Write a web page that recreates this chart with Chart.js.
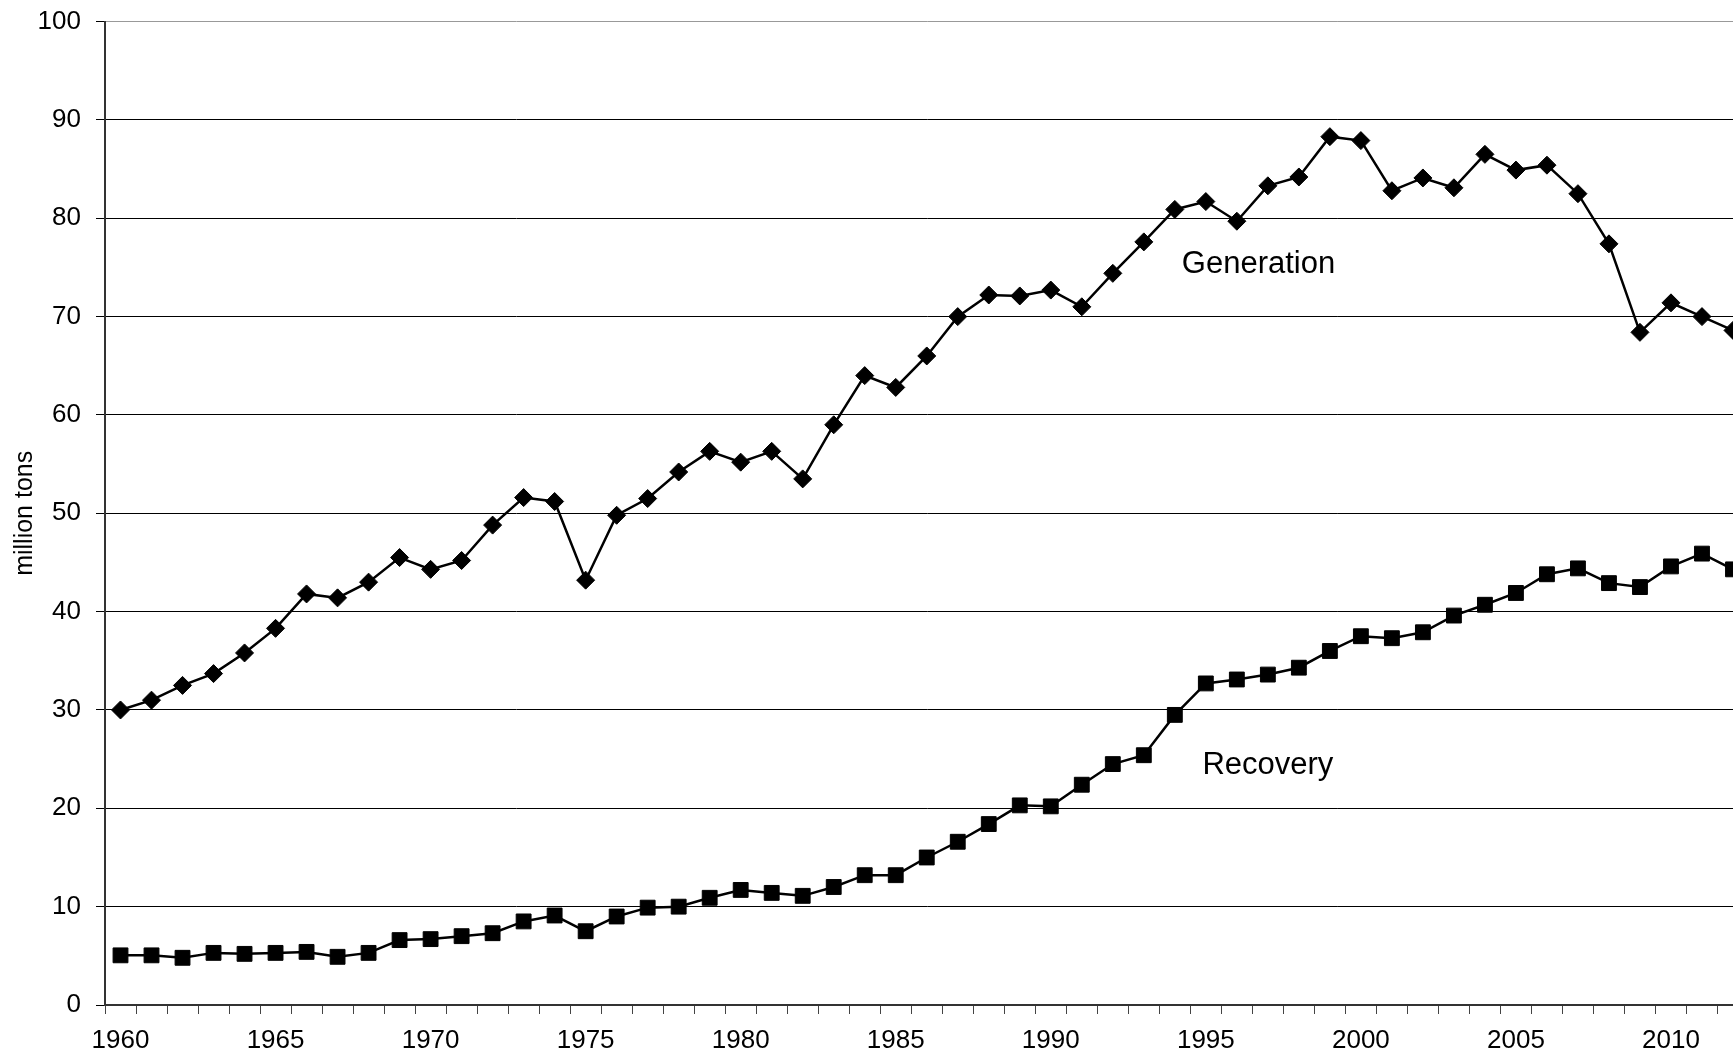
<!DOCTYPE html>
<html>
<head>
<meta charset="utf-8">
<script src="https://cdn.jsdelivr.net/npm/chart.js@4/dist/chart.umd.min.js"></script>
<style>
  html, body { margin: 0; padding: 0; background: #fff; overflow: hidden; }
  #wrap { position: absolute; left: 0; top: -9px; width: 1760px; height: 1061px; }
</style>
</head>
<body>
<div id="wrap"><canvas id="chart"></canvas></div>
<script>
// Years on the category axis
const years = [];
for (let y = 1960; y <= 2012; y++) years.push(String(y));

// million tons
const generation = [
  30.0, 31.0, 32.5, 33.7, 35.8, 38.3, 41.8, 41.4, 43.0, 45.5,
  44.3, 45.2, 48.8, 51.6, 51.2, 43.2, 49.8, 51.5, 54.2, 56.3,
  55.2, 56.3, 53.5, 59.0, 64.0, 62.8, 66.0, 70.0, 72.2, 72.1,
  72.7, 71.0, 74.4, 77.6, 80.9, 81.7, 79.7, 83.3, 84.2, 88.3,
  87.9, 82.8, 84.1, 83.1, 86.5, 84.9, 85.4, 82.5, 77.4, 68.4,
  71.4, 70.0, 68.6
];
const recovery = [
  5.05, 5.05, 4.8, 5.3, 5.2, 5.3, 5.4, 4.9, 5.3, 6.6,
  6.7, 7.0, 7.3, 8.5, 9.1, 7.5, 9.0, 9.9, 10.0, 10.9,
  11.7, 11.4, 11.1, 12.0, 13.2, 13.2, 15.0, 16.6, 18.4, 20.3,
  20.2, 22.4, 24.5, 25.4, 29.5, 32.7, 33.1, 33.6, 34.3, 36.0,
  37.5, 37.3, 37.9, 39.6, 40.7, 41.9, 43.8, 44.4, 42.9, 42.5,
  44.6, 45.9, 44.3
];

// Series labels written inside the plot (category index, value)
const seriesNames = ['Generation', 'Recovery'];
const labelAt = [[36.7, 75.3], [37.0, 24.4]];

const FONT = "'Liberation Sans', Arial, Helvetica, sans-serif";

// draws the series names as text in the plot
const inlineLabels = {
  id: 'inlineLabels',
  afterDatasetsDraw(chart) {
    const { ctx, scales: { x, y } } = chart;
    ctx.save();
    ctx.font = '31px ' + FONT;
    ctx.fillStyle = '#000';
    ctx.textAlign = 'center';
    ctx.textBaseline = 'middle';
    seriesNames.forEach((name, i) => {
      ctx.fillText(name, x.getPixelForValue(labelAt[i][0]), y.getPixelForValue(labelAt[i][1]));
    });
    ctx.restore();
  }
};

new Chart(document.getElementById('chart'), {
  type: 'line',
  data: {
    labels: years,
    datasets: [
      {
        label: 'Generation',
        data: generation,
        borderColor: '#000',
        backgroundColor: '#000',
        borderWidth: 2.5,
        pointStyle: 'rectRot',
        pointRadius: 9,
        pointBorderWidth: 1,
        tension: 0
      },
      {
        label: 'Recovery',
        data: recovery,
        borderColor: '#000',
        backgroundColor: '#000',
        borderWidth: 2.5,
        pointStyle: 'rect',
        pointRadius: 10.5,
        pointBorderWidth: 1,
        tension: 0
      }
    ]
  },
  options: {
    responsive: true,
    maintainAspectRatio: false,
    animation: false,
    layout: { padding: { top: 11, right: 7, bottom: 0, left: 0 } },
    plugins: {
      legend: { display: false },
      tooltip: { enabled: false }
    },
    scales: {
      x: {
        offset: true,
        afterFit: (s) => { s.height = 47; },
        grid: {
          offset: true,
          drawOnChartArea: false,
          tickLength: 9,
          color: '#444'
        },
        border: { color: '#333', width: 2 },
        ticks: {
          autoSkip: false,
          maxRotation: 0,
          padding: 11,
          color: '#000',
          font: { family: FONT, size: 26 },
          callback: function (val) {
            const yr = Number(this.getLabelForValue(val));
            return yr % 5 === 0 ? String(yr) : '';
          }
        }
      },
      y: {
        min: 0,
        max: 100,
        afterFit: (s) => { s.width = 105; },
        grid: {
          color: (c) => (c.tick && c.tick.value === 100 ? '#999' : '#000'),
          tickColor: '#000',
          lineWidth: 1,
          tickLength: 9
        },
        border: { color: '#333', width: 2 },
        ticks: {
          stepSize: 10,
          padding: 15,
          color: '#000',
          font: { family: FONT, size: 26 }
        },
        title: {
          display: true,
          text: 'million tons',
          color: '#000',
          padding: { top: 10, bottom: 0 },
          font: { family: FONT, size: 25 }
        }
      }
    }
  },
  plugins: [inlineLabels]
});
</script>
</body>
</html>
